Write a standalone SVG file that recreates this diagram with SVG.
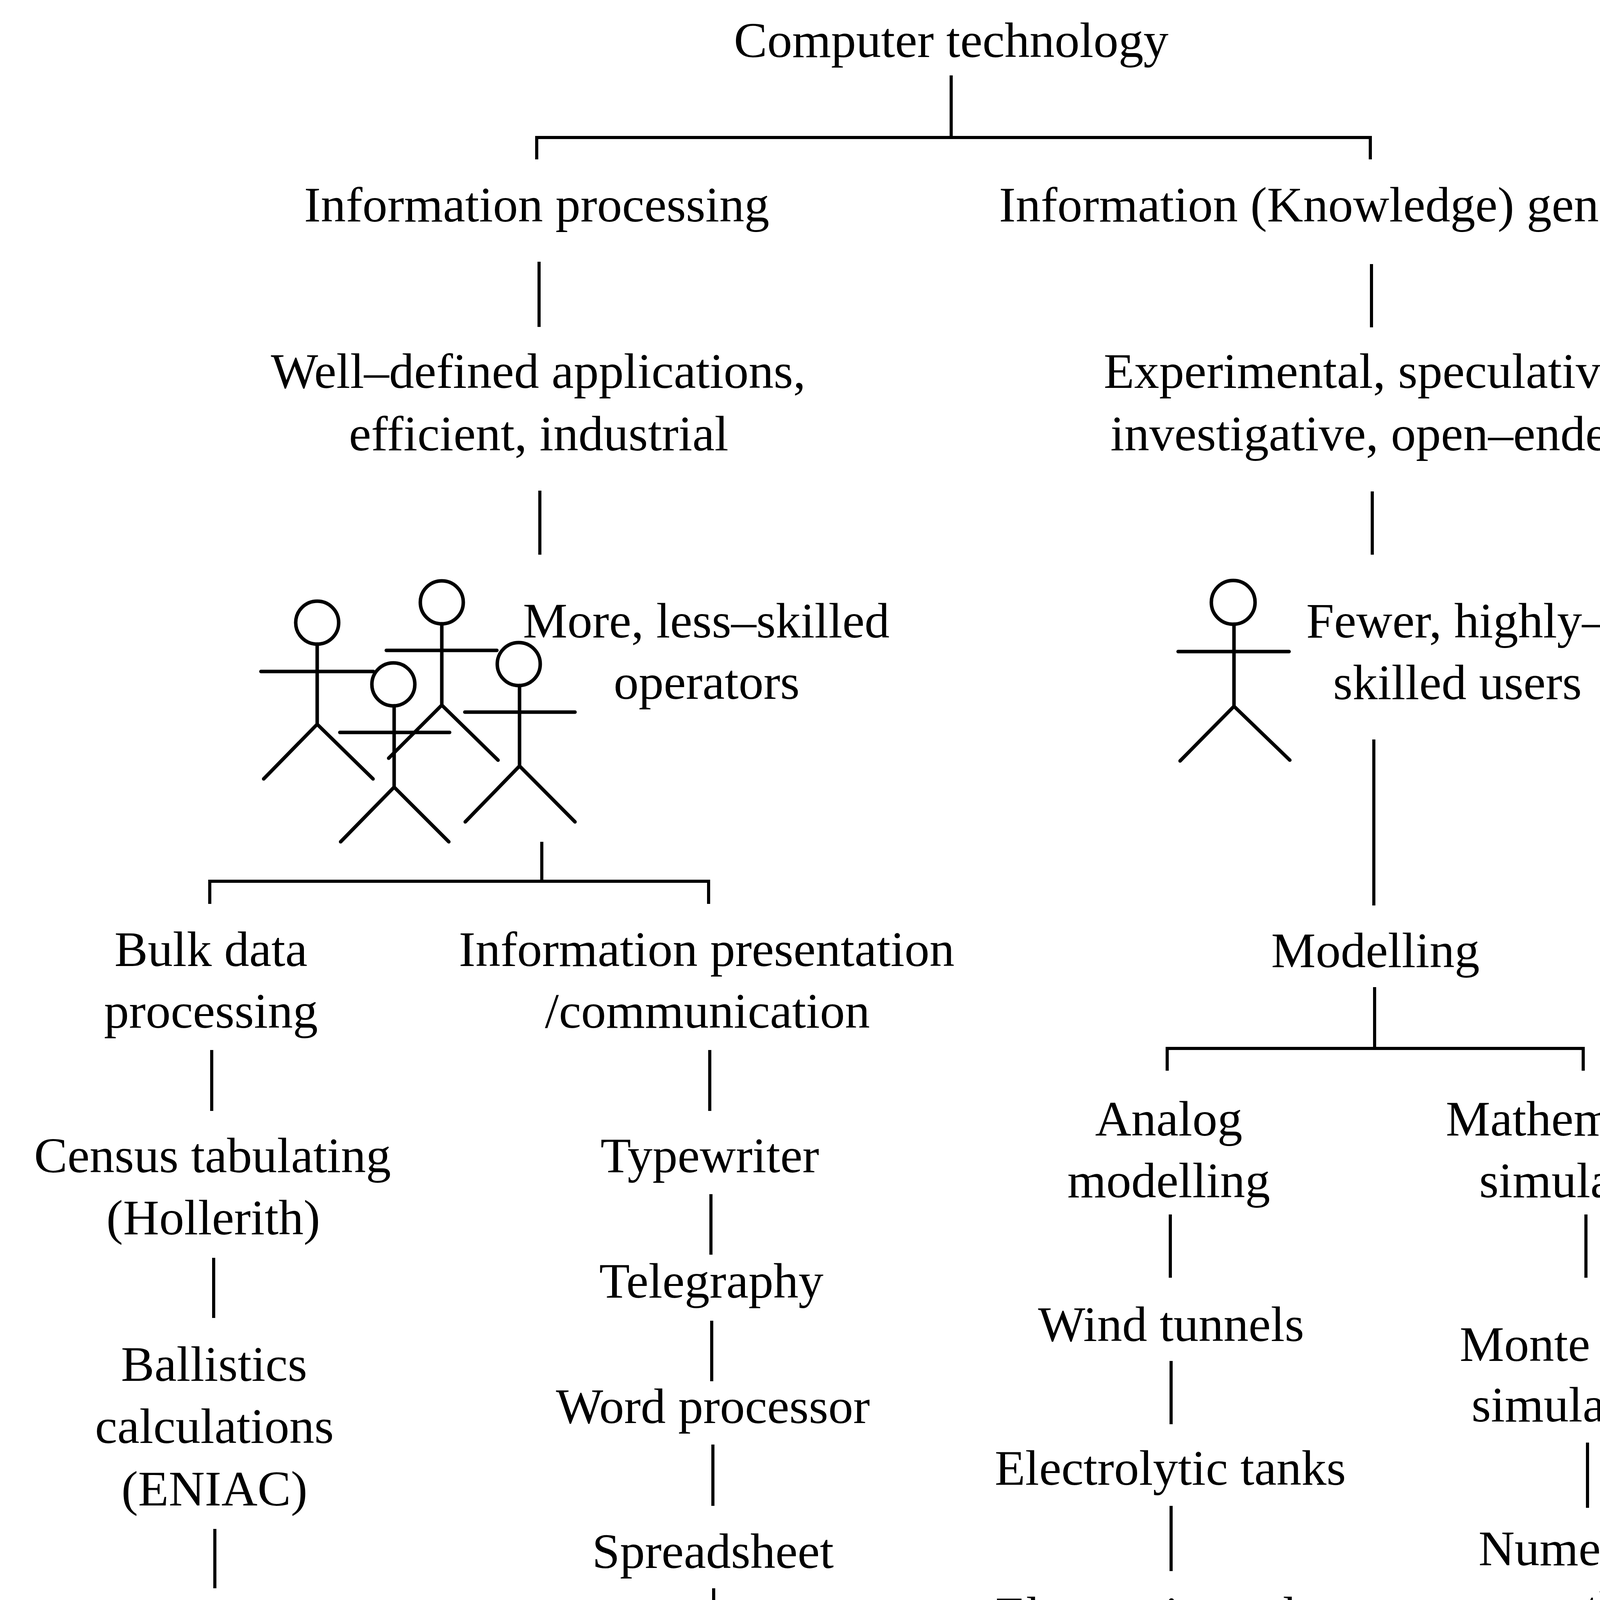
<svg xmlns="http://www.w3.org/2000/svg" width="4450" height="4409" viewBox="0 0 4450 4409">
<style>
text{font-family:"Liberation Serif","Times New Roman",serif;font-size:128px;fill:#000;text-anchor:middle}
.c{fill:none;stroke:#000;stroke-width:8;stroke-linecap:butt}
.f{fill:none;stroke:#000;stroke-width:9;stroke-linecap:round;stroke-linejoin:miter}
</style>
<rect width="4450" height="4409" fill="#fff"/>
<g id="connectors" class="c">
<path d="M2435,193V352"/>
<path d="M1374,408V352H3508V408"/>
<path d="M1380,670V837"/>
<path d="M3511,676V838"/>
<path d="M1382,1256V1420"/>
<path d="M3513,1258V1420"/>
<path d="M1387,2155V2256"/>
<path d="M537,2314V2256H1814V2314"/>
<path d="M3517,1893V2318"/>
<path d="M542,2688V2844"/>
<path d="M547,3220V3374"/>
<path d="M550,3914V4066"/>
<path d="M1817,2688V2844"/>
<path d="M1820,3057V3212"/>
<path d="M1822,3381V3536"/>
<path d="M1825,3698V3855"/>
<path d="M1827,4066V4221"/>
<path d="M3519,2527V2684"/>
<path d="M2988,2741V2684H4053V2741"/>
<path d="M2996,3109V3271"/>
<path d="M2998,3484V3646"/>
<path d="M2998,3855V4022"/>
<path d="M4060,3109V3271"/>
<path d="M4064,3693V3860"/>
</g>
<g id="computer-technology"><text x="2435" y="146">Computer technology</text></g>
<g id="information-processing"><text x="1374" y="567">Information processing</text></g>
<g id="information-generation"><text x="3503" y="567">Information (Knowledge) generation</text></g>
<g id="well-defined"><text x="1378" y="993">Well–defined applications,</text><text x="1379" y="1153">efficient, industrial</text></g>
<g id="experimental"><text x="3506" y="993">Experimental, speculative,</text><text x="3511" y="1153">investigative, open–ended</text></g>
<g id="operators">
<g class="f">
<circle cx="812" cy="1594" r="55"/><path d="M812,1649V1854M668,1719H956M675,1994L812,1854L955,1994"/>
<circle cx="1131" cy="1542" r="55"/><path d="M1131,1597V1805M989,1665H1272M995,1941L1131,1805L1275,1946"/>
<circle cx="1007" cy="1752" r="55"/><path d="M1009,1807V2015M870,1875H1151M872,2155L1009,2015L1149,2155"/>
<circle cx="1328" cy="1700" r="55"/><path d="M1330,1755V1961M1190,1823H1472M1191,2104L1330,1961L1472,2104"/>
</g>
<text x="1808" y="1632">More, less–skilled</text><text x="1809" y="1789">operators</text>
</g>
<g id="users">
<g class="f">
<circle cx="3157" cy="1542" r="56"/><path d="M3159,1598V1808M3016,1668H3300M3021,1948L3159,1808L3302,1946"/>
</g>
<text x="3729" y="1632">Fewer, highly–</text><text x="3731" y="1790">skilled users</text>
</g>
<g id="bulk-data"><text x="540" y="2473">Bulk data</text><text x="540" y="2631">processing</text></g>
<g id="census"><text x="544" y="3001">Census tabulating</text><text x="546" y="3160">(Hollerith)</text></g>
<g id="ballistics"><text x="548" y="3535">Ballistics</text><text x="549" y="3694">calculations</text><text x="549" y="3854">(ENIAC)</text></g>
<g id="business"><text x="552" y="4228">Business processing</text><text x="553" y="4383">e.g. Payroll</text></g>
<g id="information-presentation"><text x="1809" y="2473">Information presentation</text><text x="1811" y="2631">/communication</text></g>
<g id="typewriter"><text x="1817" y="3001">Typewriter</text></g>
<g id="telegraphy"><text x="1821" y="3322">Telegraphy</text></g>
<g id="word-processor"><text x="1825" y="3643">Word processor</text></g>
<g id="spreadsheet"><text x="1825" y="4014">Spreadsheet</text></g>
<g id="internet"><text x="1830" y="4331">Internet</text></g>
<g id="modelling"><text x="3521" y="2476">Modelling</text></g>
<g id="analog-modelling"><text x="2992" y="2907">Analog</text><text x="2992" y="3065">modelling</text></g>
<g id="wind-tunnels"><text x="2998" y="3433">Wind tunnels</text></g>
<g id="electrolytic-tanks"><text x="2996" y="3801">Electrolytic tanks</text></g>
<g id="electronic-analog"><text x="2998" y="4176">Electronic analog</text><text x="2998" y="4331">computers</text></g>
<g id="mathematical-simulation"><text x="4053" y="2907">Mathematical</text><text x="4057" y="3065">simulation</text></g>
<g id="monte-carlo"><text x="4062" y="3484">Monte Carlo</text><text x="4062" y="3639">simulations</text></g>
<g id="numerical-weather"><text x="4055" y="4007">Numerical</text><text x="4055" y="4162">weather</text><text x="4055" y="4316">prediction</text></g>
</svg>
